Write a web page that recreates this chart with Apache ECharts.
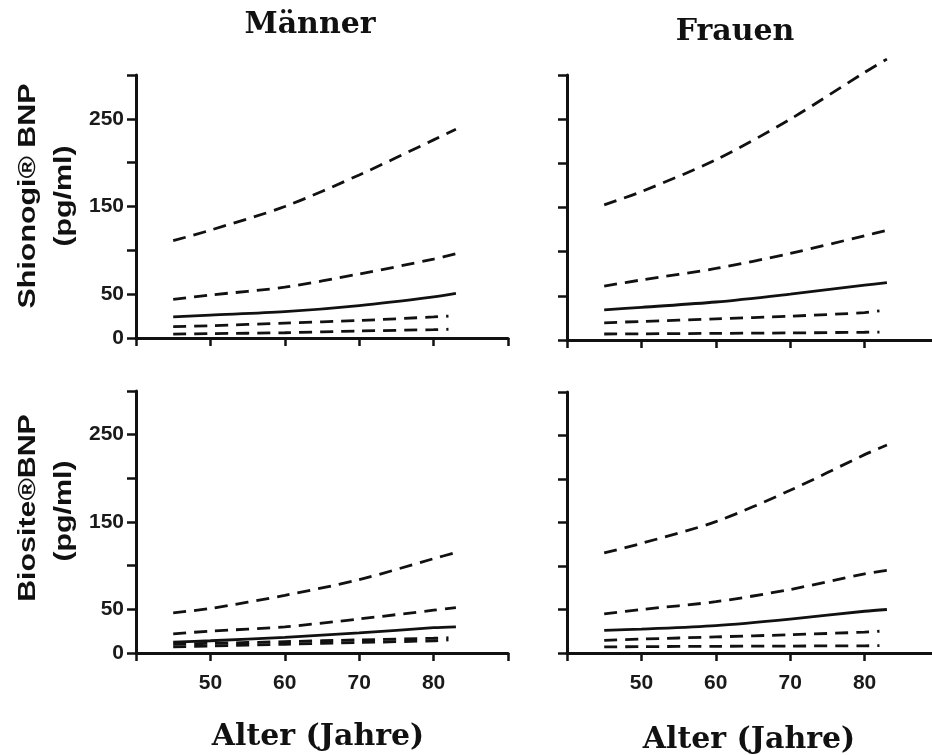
<!DOCTYPE html>
<html>
<head>
<meta charset="utf-8">
<script src="https://cdn.jsdelivr.net/npm/echarts@6/dist/echarts.min.js"></script>
<style>
  html, body { margin: 0; padding: 0; background: #fff; }
  #chart { width: 932px; height: 755px; }
</style>
</head>
<body>
<div id="chart"></div>
<script>
var ages = [45, 50, 60, 70, 80, 83];
var agesLow = [45, 50, 60, 70, 80, 82];

// Männer, Shionogi BNP (pg/ml)
var menShioTop   = [111, 123, 150, 186, 226, 238];
var menShioUpper = [44, 49, 58, 73, 90, 96];
var menShioMed   = [24, 26, 30, 37, 47, 51];
var menShioLow1  = [13, 14, 17, 20, 24, 25];
var menShioLow2  = [4.5, 5, 6, 8, 9.5, 10];

// Frauen, Shionogi BNP
var womShioTop   = [153, 168, 204, 250, 303, 318];
var womShioUpper = [61, 68, 81, 98, 118, 124];
var womShioMed   = [34, 37, 43, 52, 62, 65];
var womShioLow1  = [19.5, 21, 24, 27, 31, 33];
var womShioLow2  = [6.8, 7, 7.5, 8, 8.8, 9];

// Männer, Biosite BNP
var menBioTop   = [46, 51, 66, 84, 108, 115];
var menBioUpper = [22, 25, 30, 39, 49, 52];
var menBioMed   = [12.5, 14, 18, 23, 29, 30];
var menBioLow1  = [10, 11, 13, 15, 17, 17.5];
var menBioLow2  = [7, 8, 10, 12, 14, 15];

// Frauen, Biosite BNP
var womBioTop   = [115, 126, 151, 187, 228, 239];
var womBioUpper = [45, 50, 59, 73, 91, 95];
var womBioMed   = [26, 27.5, 31.5, 39, 48, 50];
var womBioLow1  = [14.5, 16, 18.5, 21, 24, 25];
var womBioLow2  = [7, 7.3, 7.7, 8, 8.3, 8.4];

var yTickLabels = [0, 50, 150, 250];
var xTickLabels = [50, 60, 70, 80];

var ink = '#111';
var chart = echarts.init(document.getElementById('chart'));

var grids = [
	{left: 136, top: 75, width: 372, height: 263},
	{left: 567, top: 75, width: 372, height: 265},
	{left: 136, top: 391, width: 372, height: 262},
	{left: 567, top: 392, width: 372, height: 261}
];

var panels = [
	[menShioTop, menShioUpper, menShioMed, menShioLow1, menShioLow2],
	[womShioTop, womShioUpper, womShioMed, womShioLow1, womShioLow2],
	[menBioTop, menBioUpper, menBioMed, menBioLow1, menBioLow2],
	[womBioTop, womBioUpper, womBioMed, womBioLow1, womBioLow2]
];

function pairs(xs, ys) {
	return ys.map(function(v, i) { return [xs[i], v]; });
}

var tickFont = {fontFamily: 'Liberation Sans', fontWeight: 'bold', fontSize: 21, color: '#1a1a1a'};

var xAxes = [], yAxes = [], series = [];
grids.forEach(function(g, i) {
	g.outerBoundsMode = 'none';
	xAxes.push({
		type: 'value', gridIndex: i, min: 40, max: 90, interval: 10,
		splitLine: {show: false},
		axisLine: {onZero: false, lineStyle: {color: ink, width: 3}},
		axisTick: {length: 8, lineStyle: {color: ink, width: 2.5}},
		axisLabel: Object.assign({
			show: i >= 2, margin: 20,
			formatter: function(v) { return xTickLabels.indexOf(v) >= 0 ? String(v) : ''; }
		}, tickFont)
	});
	yAxes.push({
		type: 'value', gridIndex: i, min: 0, max: 300, interval: 50,
		splitLine: {show: false},
		axisLine: {show: true, lineStyle: {color: ink, width: 3}},
		axisTick: {show: true, length: 9, lineStyle: {color: ink, width: 2.5}},
		axisLabel: Object.assign({
			show: i % 2 === 0, margin: 12,
			formatter: function(v) { return yTickLabels.indexOf(v) >= 0 ? String(v) : ''; }
		}, tickFont)
	});
	panels[i].forEach(function(ys, k) {
		series.push({
			type: 'line', xAxisIndex: i, yAxisIndex: i,
			data: pairs(k >= 3 ? agesLow : ages, ys),
			smooth: 0.3,
			showSymbol: false, clip: false, silent: true,
			lineStyle: {color: ink, width: 2.8, type: k === 2 ? 'solid' : [13, 8]}
		});
	});
});

function label(text, x, y, font, opts) {
	opts = opts || {};
	return {
		type: 'text', x: x, y: y,
		rotation: opts.rotation || 0,
		scaleX: opts.scaleX || 1, scaleY: opts.scaleY || 1,
		style: {text: text, font: font, fill: ink, textAlign: 'center', textVerticalAlign: 'middle'}
	};
}

var serif = 'bold 30px "DejaVu Serif"';
var sans = 'bold 23px "Liberation Sans"';
var up = Math.PI / 2;

chart.setOption({
	backgroundColor: '#fff',
	animation: false,
	grid: grids,
	xAxis: xAxes,
	yAxis: yAxes,
	series: series,
	graphic: [
		label('Männer', 310, 25, serif),
		label('Frauen', 735, 32, serif),
		label('Alter (Jahre)', 318, 737, serif),
		label('Alter (Jahre)', 749, 740, serif),
		label('Shionogi® BNP', 29, 196, sans, {rotation: up, scaleX: 1.32}),
		label('(pg/ml)', 65, 196, sans, {rotation: up, scaleX: 1.32}),
		label('Biosite®BNP', 29, 508, sans, {rotation: up, scaleX: 1.32}),
		label('(pg/ml)', 65, 511, sans, {rotation: up, scaleX: 1.32})
	]
});
</script>
</body>
</html>
